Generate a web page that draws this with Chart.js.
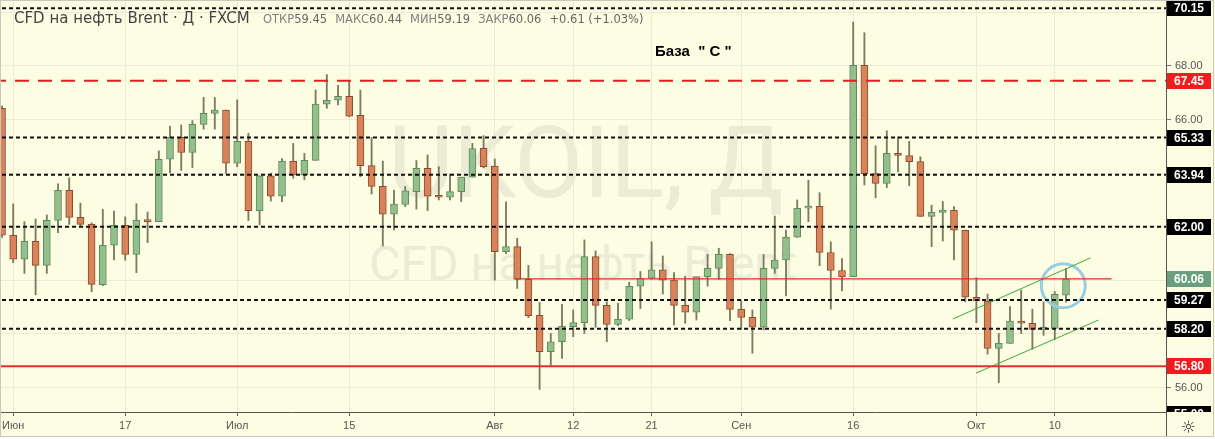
<!DOCTYPE html>
<html>
<head>
<meta charset="utf-8">
<script src="https://cdn.jsdelivr.net/npm/chart.js@4"></script>
<style>
  html, body { margin: 0; padding: 0; background: #ffffff; }
  #wrap { position: relative; width: 1215px; height: 439px; background: #fdfde3; overflow: hidden; }
  #wrap canvas { position: absolute; left: 0; top: 0; z-index: 2; }
  .wm { position: absolute; z-index: 1; color: #ececd6; font-family: Roboto, "Liberation Sans", sans-serif; white-space: nowrap; text-align: center; }
  #wm1 { left: 286px; width: 600px; top: 113px; font-size: 100px; line-height: 100px; }
  #wm2 { left: 283px; width: 600px; top: 240px; font-size: 48px; line-height: 48px; }
  #title { position: absolute; z-index: 3; left: 14px; top: 10px; font: 15px/16px "DejaVu Sans", sans-serif; color: #444; white-space: nowrap; }
  #ohlc { position: absolute; z-index: 3; left: 263px; top: 12px; font: 11.5px/14px "DejaVu Sans", sans-serif; color: #666; white-space: nowrap; }
  #ohlc span.k { color: #808080; }
  #ohlc span.g { margin-right: 8px; }
  #note { position: absolute; z-index: 3; left: 655px; top: 42px; font: bold 15px/18px "Liberation Sans", Arial, sans-serif; color: #000; white-space: pre; }
  #gear { position: absolute; z-index: 3; left: 1181px; top: 417px; font: 17px/20px "DejaVu Sans", sans-serif; color: #333; }
</style>
</head>
<body>
<div id="wrap">
  <div class="wm" id="wm1">UKOIL, Д</div>
  <div class="wm" id="wm2">CFD на нефть Brent</div>
  <canvas id="myChart" width="1215" height="439"></canvas>
  <div id="title">CFD на нефть Brent · Д · FXCM</div>
  <div id="ohlc"><span class="g"><span class="k">ОТКР</span>59.45</span><span class="g"><span class="k">МАКС</span>60.44</span><span class="g"><span class="k">МИН</span>59.19</span><span class="g"><span class="k">ЗАКР</span>60.06</span><span>+0.61 (+1.03%)</span></div>
  <div id="note">База  " С "</div>
  <div id="gear">☼</div>
</div>
<script>
// daily candles, 31.05 - 11.10
const dates = [
  "31.05",
  "03.06","04.06","05.06","06.06","07.06","10.06","11.06","12.06","13.06","14.06",
  "17.06","18.06","19.06","20.06","21.06","24.06","25.06","26.06","27.06","28.06",
  "01.07","02.07","03.07","04.07","05.07","08.07","09.07","10.07","11.07","12.07",
  "15.07","16.07","17.07","18.07","19.07","22.07","23.07","24.07","25.07","26.07",
  "29.07","30.07","31.07",
  "01.08","02.08","05.08","06.08","07.08","08.08","09.08",
  "12.08","13.08","14.08","15.08","16.08","19.08","20.08",
  "21.08","22.08","23.08","26.08","27.08","28.08","29.08","30.08",
  "02.09","03.09","04.09","05.09","06.09","09.09","10.09","11.09","12.09","13.09",
  "16.09","17.09","18.09","19.09","20.09","23.09","24.09","25.09","26.09","27.09","30.09",
  "01.10","02.10","03.10","04.10","07.10","08.10","09.10","10.10","11.10"
];

const opens = [
  66.42,
  61.68,60.79,61.46,60.56,62.24,63.36,62.35,62.09,59.84,61.31,
  62.05,60.97,62.24,62.19,64.52,65.34,64.77,65.82,66.23,66.35,
  64.37,65.19,62.60,63.90,63.14,64.44,63.93,64.48,66.57,66.72,
  66.87,66.16,64.28,63.51,62.47,62.83,63.31,64.18,63.14,63.10,
  63.31,63.85,64.93,
  64.26,61.07,61.26,60.04,58.70,57.34,57.71,
  58.27,58.42,60.89,59.07,58.36,58.55,59.78,
  60.08,60.39,60.01,59.07,58.81,60.14,60.45,60.97,
  58.92,58.62,58.25,60.45,60.76,61.61,62.69,62.76,61.04,60.37,
  60.14,68.02,63.98,63.62,64.74,64.66,64.43,62.39,62.54,62.61,61.87,
  59.37,59.23,57.46,57.65,58.48,58.40,58.17,58.21,59.45
];
const highs = [
  66.50,
  62.85,62.19,62.29,62.44,63.60,63.83,62.88,62.15,62.65,62.59,
  62.37,62.86,62.55,64.83,65.76,65.80,65.96,66.83,66.82,66.35,
  66.73,65.49,63.90,64.00,64.54,65.11,64.74,67.10,67.68,67.28,
  67.45,67.10,65.33,64.45,63.37,63.50,64.47,64.68,64.24,63.96,
  63.85,65.11,65.40,
  64.53,62.93,61.57,60.56,59.18,58.02,59.11,
  58.90,61.51,61.10,59.20,59.14,59.93,60.33,
  61.44,60.91,60.29,60.16,60.14,60.97,61.20,61.00,
  59.24,58.90,60.97,62.40,61.88,63.00,63.74,63.27,61.44,60.81,
  69.64,69.24,65.02,65.58,65.36,65.19,64.61,62.81,62.94,62.75,61.87,
  60.10,59.49,58.02,59.02,59.64,58.93,59.20,59.58,60.44
];
const lows = [
  61.60,
  60.66,60.26,59.46,60.26,61.78,62.09,62.05,59.58,59.80,60.76,
  60.75,60.29,61.41,62.19,64.02,64.10,64.21,65.64,65.64,63.99,
  64.24,62.23,62.07,62.96,62.94,63.81,63.75,64.48,66.42,66.55,
  66.10,63.87,63.22,61.28,61.88,62.75,62.66,62.60,63.00,63.00,
  62.94,63.85,64.20,
  60.01,61.00,59.70,58.61,55.93,56.84,57.09,
  57.90,58.02,58.25,57.71,58.31,58.50,58.95,
  60.05,59.49,58.34,58.40,58.52,59.79,60.04,58.50,
  58.17,57.28,58.15,60.26,59.42,61.60,62.19,60.55,58.93,59.61,
  60.14,63.56,63.08,63.46,64.05,63.53,62.39,61.26,61.47,60.76,59.20,
  58.42,57.25,56.18,57.65,58.02,57.43,57.95,57.80,59.19
];
const closes = [
  61.69,
  60.79,61.46,60.56,62.24,63.36,62.35,62.09,59.85,61.31,62.05,
  60.97,62.24,62.19,64.52,65.34,64.77,65.82,66.23,66.35,64.37,
  65.19,62.60,63.90,63.14,64.44,63.93,64.48,66.58,66.72,66.87,
  66.13,64.28,63.51,62.47,62.85,63.34,64.18,63.14,63.10,63.31,
  63.85,64.92,64.24,
  61.07,61.26,60.04,58.68,57.34,57.71,58.29,
  58.43,60.89,59.07,58.36,58.55,59.78,60.08,
  60.39,60.01,59.07,58.81,60.14,60.45,60.97,58.92,
  58.62,58.25,60.45,60.76,61.61,62.69,62.77,61.04,60.37,60.14,
  68.02,63.98,63.62,64.74,64.66,64.43,62.39,62.54,62.62,61.87,59.37,
  59.23,57.46,57.65,58.48,58.40,58.17,58.21,59.48,60.06
];

// x axis labels
const tickDates = ["03.06","17.06","01.07","15.07","01.08","12.08","21.08","02.09","16.09","01.10","10.10"];
const tickLabels = ["Июн","17","Июл","15","Авг","12","21","Сен","16","Окт","10"];

// horizontal levels and their price tags
const blackLevels = [70.15, 65.33, 63.94, 62.00, 59.27, 58.20];
const redDashedLevel = 67.45;
const redSolidLevel = 56.80;
const pivotLevel = 60.06;
const pivotFrom = "05.08";
const tagValues = [70.15, 67.45, 65.33, 63.94, 62.00, 60.06, 59.27, 58.20, 56.80, 55.00];
const tagColors = ["#000","#f01d1d","#000","#000","#000","#6b9e7e","#000","#000","#f01d1d","#000"];

// trend channel (index, price)
const channelUpper = [[84.9, 58.56], [97.2, 60.84]];
const channelLower = [[86.96, 56.54], [97.9, 58.52]];
const circleMark = [94.76, 59.80];

const GREEN = "#93bf8d", GREEN_B = "#5f8a5b";
const RED = "#da835b", RED_B = "#8c4c2f";
const WICK = "#7b7b5d";

const ctx = document.getElementById("myChart");
const tickIdx = tickDates.map(d => dates.indexOf(d));
const up = closes.map((c, i) => c >= opens[i]);

function hline(v, color, dash, width, from, to) {
  return {
    type: "line",
    data: [{ x: from, y: v }, { x: to, y: v }],
    borderColor: color,
    borderDash: dash,
    borderWidth: width,
    pointRadius: 0,
    order: 0
  };
}

const lineSets = [];
blackLevels.forEach(v => lineSets.push(hline(v, "#111", [4, 3], 2, -5, 110)));
lineSets.push(hline(redDashedLevel, "#e0201e", [14, 9], 2, -5, 110));
lineSets.push(hline(redSolidLevel, "#e5302b", [], 2, -5, 110));
lineSets.push(hline(pivotLevel, "#d8302a", [], 1.2, dates.indexOf(pivotFrom) - 0.2, 99.07));
[channelUpper, channelLower].forEach(seg => {
  lineSets.push({
    type: "line",
    data: seg.map(p => ({ x: p[0], y: p[1] })),
    borderColor: "#3caa3c",
    borderWidth: 1,
    pointRadius: 0,
    order: 0
  });
});
lineSets.push({
  type: "line",
  data: [{ x: circleMark[0], y: circleMark[1] }],
  showLine: false,
  pointRadius: 22,
  pointBorderWidth: 3,
  pointBorderColor: "#96cde0",
  pointBackgroundColor: "rgba(0,0,0,0)",
  order: 0
});

// price tags on the right axis + frame
const tagsPlugin = {
  id: "tags",
  afterDraw(chart) {
    const c = chart.ctx;
    const y = chart.scales.y;
    const area = chart.chartArea;
    c.save();
    tagValues.forEach((v, i) => {
      const py = y.getPixelForValue(v);
      c.save();
      c.beginPath();
      c.rect(area.right, 0, 60, area.bottom);
      c.clip();
      c.fillStyle = tagColors[i];
      c.fillRect(area.right + 1, Math.round(py) - 8, 44, 16);
      c.fillStyle = "#fff";
      c.font = "bold 12px 'Liberation Sans', Arial, sans-serif";
      c.textBaseline = "middle";
      c.fillText(v.toFixed(2), area.right + 8, Math.round(py) + 0.5);
      c.restore();
    });
    // frame
    c.strokeStyle = "#c9c9c0";
    c.lineWidth = 1;
    c.strokeRect(0.5, 0.5, 1213, 436);
    c.strokeStyle = "#555";
    c.beginPath();
    c.moveTo(area.right + 0.5, area.bottom);
    c.lineTo(area.right + 0.5, 436);
    c.stroke();
    c.fillStyle = "#fff";
    c.fillRect(0, 437, 1215, 2);
    c.restore();
  }
};

Chart.defaults.font.family = "'Liberation Sans', Arial, sans-serif";

const myChart = new Chart(ctx, {
  type: "bar",
  data: {
    datasets: [
      ...lineSets,
      {
        label: "body",
        data: dates.map((d, i) => ({ x: i, y: [opens[i], closes[i]] })),
        backgroundColor: up.map(u => u ? GREEN : RED),
        borderColor: up.map(u => u ? GREEN_B : RED_B),
        borderWidth: 1,
        borderSkipped: false,
        barThickness: 7,
        minBarLength: 2,
        grouped: false,
        order: 1
      },
      {
        label: "wick",
        data: dates.map((d, i) => ({ x: i, y: [lows[i], highs[i]] })),
        backgroundColor: WICK,
        borderWidth: 0,
        barThickness: 1.2,
        grouped: false,
        order: 2
      }
    ]
  },
  options: {
    responsive: false,
    animation: false,
    layout: { padding: 0, autoPadding: false },
    plugins: {
      legend: { display: false },
      tooltip: { enabled: false }
    },
    scales: {
      x: {
        type: "linear",
        min: -0.18,
        max: 103.93,
        offset: false,
        afterBuildTicks(s) { s.ticks = tickIdx.map(v => ({ value: v })); },
        afterFit(s) { s.height = 27; s.paddingLeft = 0; s.paddingRight = 0; },
        ticks: {
          autoSkip: false,
          maxRotation: 0,
          padding: 3,
          color: "#555",
          font: { size: 11 },
          callback: (v, i) => tickLabels[i]
        },
        grid: { color: "#ebebd6", offset: false, tickLength: 4, tickColor: "#666" },
        border: { color: "#555" }
      },
      y: {
        position: "right",
        min: 55.09,
        max: 70.46,
        afterFit(s) { s.width = 49; s.paddingTop = 0; s.paddingBottom = 0; },
        ticks: {
          stepSize: 2,
          includeBounds: false,
          padding: 4,
          color: "#555",
          font: { size: 11 },
          callback: v => [56, 66, 68].includes(Math.round(v * 100) / 100) ? v.toFixed(2) : ""
        },
        grid: { color: "#ebebd6", tickLength: 5, tickColor: "#777" },
        border: { color: "#555" }
      }
    }
  },
  plugins: [tagsPlugin]
});
</script>
</body>
</html>
